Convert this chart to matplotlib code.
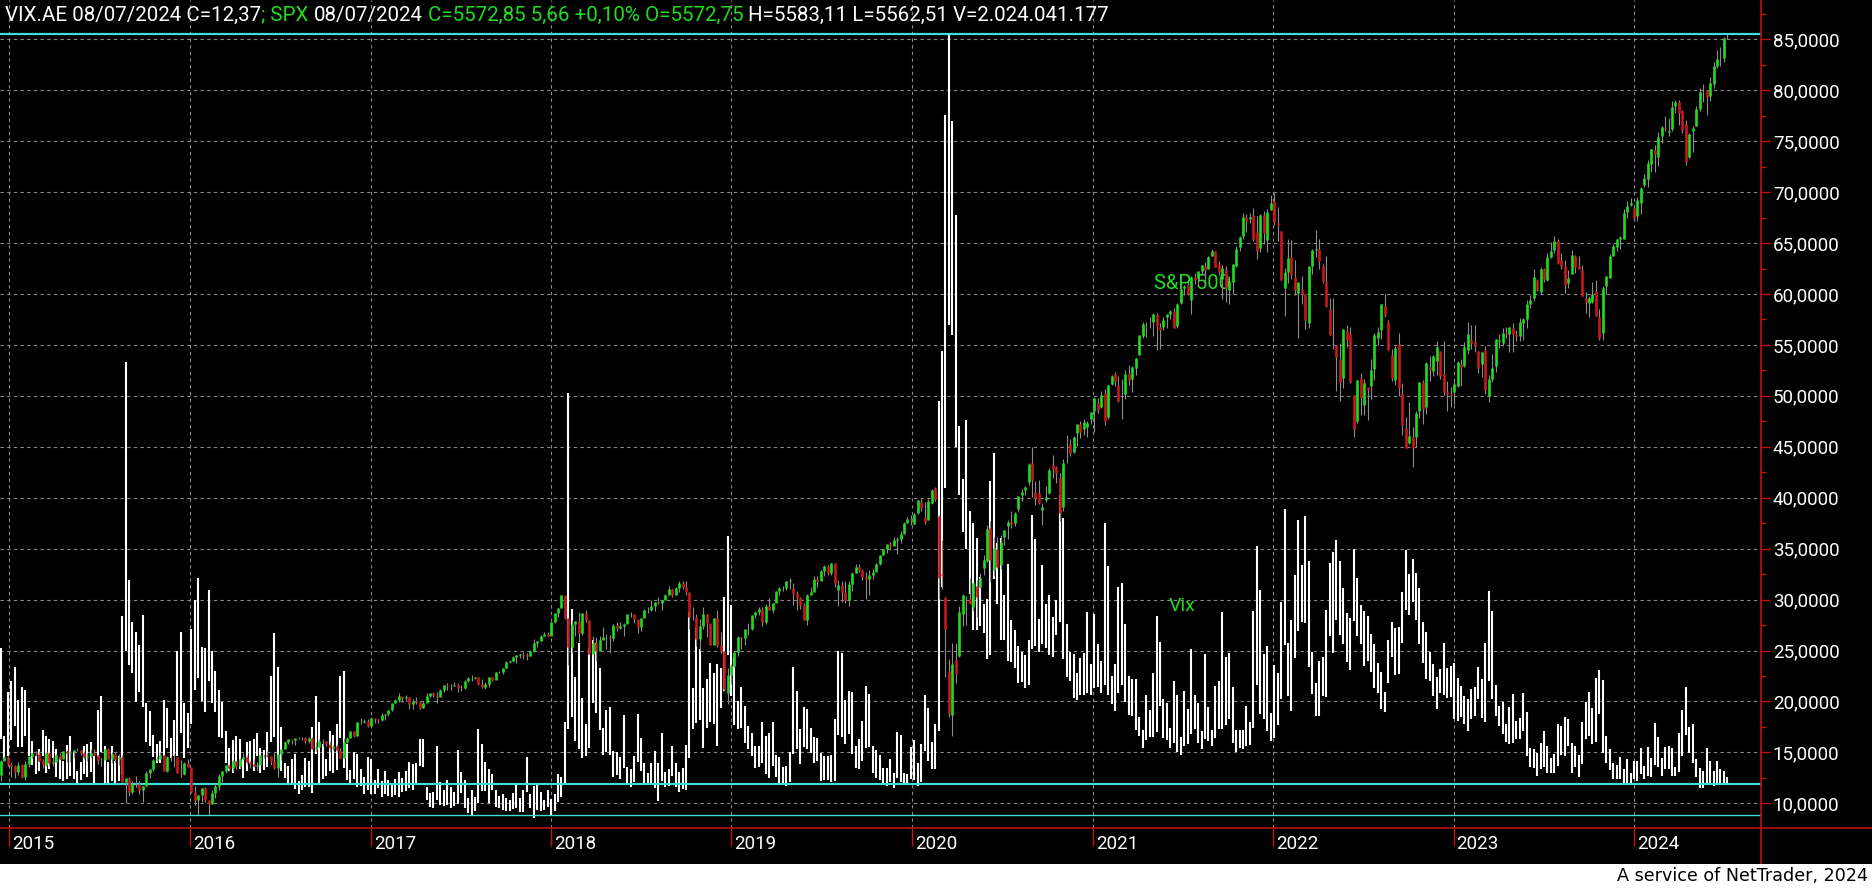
import numpy as np
import matplotlib
matplotlib.use("Agg")
from matplotlib import pyplot as plt
import matplotlib.dates as mdates
from matplotlib.lines import Line2D
from matplotlib.patches import Rectangle
from matplotlib.ticker import MultipleLocator, FuncFormatter

# weekly bars, week of 15 Dec 2014 .. week of 8 Jul 2024
weeks = np.arange(np.datetime64('2014-12-15'), np.datetime64('2024-07-09'), np.timedelta64(7, 'D'))

# S&P 500 weekly candles (index points)
spx_open = [
    2005, 2071, 2089,
    # 2015
    2058, 2045, 2019, 2051, 1995, 2055, 2097, 2110, 2104, 2071, 2053, 2108, 2061,
    2067, 2102, 2081, 2117, 2108, 2116, 2123, 2126, 2107, 2092, 2094, 2110, 2102,
    2077, 2077, 2127, 2080, 2104, 2078, 2092, 1971, 1989, 1921, 1961, 1958, 1931,
    1951, 2015, 2033, 2075, 2079, 2099, 2023, 2089, 2090, 2092, 2012, 2006, 2061,
    # 2016
    2044, 1922, 1880, 1907, 1940, 1880, 1865, 1918, 1948, 2000, 2022, 2050, 2036,
    2073, 2048, 2081, 2092, 2065, 2057, 2047, 2053, 2099, 2099, 2096, 2071, 2037,
    2103, 2130, 2162, 2175, 2174, 2183, 2184, 2184, 2169, 2180, 2128, 2139, 2165,
    2168, 2153, 2133, 2141, 2126, 2085, 2164, 2182, 2214, 2192, 2260, 2258, 2263,
    # 2017
    2239, 2277, 2275, 2271, 2295, 2297, 2316, 2351, 2367, 2383, 2373, 2378, 2344,
    2363, 2355, 2329, 2349, 2384, 2399, 2391, 2382, 2416, 2439, 2432, 2433, 2438,
    2423, 2425, 2459, 2472, 2472, 2476, 2441, 2426, 2443, 2477, 2461, 2500, 2502,
    2519, 2549, 2553, 2575, 2581, 2587, 2582, 2579, 2603, 2642, 2652, 2676, 2683,
    # 2018
    2674, 2743, 2786, 2810, 2873, 2762, 2620, 2732, 2747, 2691, 2786, 2752, 2588,
    2641, 2604, 2656, 2670, 2670, 2663, 2728, 2713, 2721, 2735, 2779, 2780, 2755,
    2718, 2760, 2801, 2802, 2819, 2840, 2833, 2850, 2875, 2902, 2872, 2905, 2930,
    2914, 2886, 2767, 2768, 2659, 2723, 2781, 2736, 2633, 2760, 2633, 2604, 2401, 2486,
    # 2019
    2532, 2596, 2671, 2665, 2707, 2708, 2776, 2793, 2804, 2743, 2822, 2800, 2834,
    2893, 2907, 2905, 2940, 2909, 2881, 2860, 2826, 2752, 2873, 2887, 2950, 2942,
    2990, 3014, 2977, 3026, 2899, 2919, 2889, 2847, 2926, 2979, 3007, 2992, 2962,
    2952, 2970, 2986, 3023, 3067, 3093, 3120, 3110, 3141, 3146, 3169, 3221, 3240,
    # 2020
    3218, 3271, 3321, 3248, 3236, 3319, 3389, 3257, 2975, 2863, 2508, 2291, 2559,
    2579, 2782, 2846, 2854, 2815, 2915, 2913, 3004, 3038, 3199, 2993, 3094, 3018,
    3155, 3205, 3224, 3219, 3289, 3356, 3381, 3419, 3509, 3370, 3364, 3285, 3334,
    3367, 3500, 3493, 3441, 3297, 3583, 3601, 3566, 3654, 3699, 3675, 3684, 3723,
    # 2021
    3764, 3803, 3781, 3851, 3732, 3892, 3939, 3886, 3842, 3844, 3943, 3916, 3969,
    4034, 4124, 4179, 4185, 4192, 4228, 4170, 4170, 4217, 4229, 4248, 4173, 4285,
    4356, 4373, 4297, 4409, 4406, 4437, 4462, 4450, 4513, 4535, 4474, 4402, 4442,
    4348, 4385, 4464, 4553, 4610, 4702, 4689, 4712, 4628, 4548, 4710, 4587, 4733,
    # 2022
    4779, 4669, 4632, 4356, 4432, 4505, 4412, 4332, 4354, 4328, 4188, 4462, 4541,
    4547, 4463, 4385, 4256, 4130, 4081, 4013, 3920, 4151, 4134, 3838, 3715, 3920,
    3792, 3880, 3883, 3965, 4113, 4155, 4270, 4195, 4034, 3910, 4084, 3849, 3682,
    3609, 3636, 3639, 3763, 3901, 3780, 3977, 3956, 4005, 4053, 3940, 3854, 3843,
    # 2023
    3853, 3884, 3990, 3979, 4056, 4106, 4097, 4052, 3992, 4055, 3835, 3917, 3982,
    4102, 4092, 4139, 4134, 4166, 4136, 4126, 4190, 4205, 4282, 4308, 4396, 4337,
    4450, 4394, 4505, 4543, 4585, 4492, 4464, 4380, 4426, 4510, 4463, 4445, 4310,
    4285, 4289, 4342, 4218, 4140, 4365, 4407, 4511, 4554, 4594, 4593, 4725, 4758,
    # 2024
    4745, 4703, 4766, 4853, 4886, 4957, 5026, 4989, 5094, 5131, 5111, 5124, 5235,
    5258, 5211, 5149, 4988, 5114, 5142, 5221, 5305, 5316, 5283, 5341, 5431, 5460,
    5471, 5572.75,
]
spx_high = [
    2077, 2094, 2093,
    2065, 2049, 2064, 2058, 2073, 2097, 2110, 2119, 2117, 2079, 2114, 2114, 2089,
    2103, 2111, 2120, 2126, 2120, 2123, 2134, 2126, 2121, 2110, 2127, 2130, 2102,
    2083, 2129, 2132, 2114, 2112, 2103, 2102, 1989, 1993, 1976, 1996, 1974, 1951,
    2020, 2034, 2079, 2094, 2116, 2099, 2097, 2094, 2104, 2092, 2076, 2067, 2082,
    2038, 1950, 1908, 1940, 1947, 1881, 1930, 1963, 2009, 2024, 2053, 2056, 2075,
    2073, 2084, 2111, 2099, 2075, 2081, 2064, 2100, 2106, 2120, 2093, 2113, 2103,
    2131, 2169, 2175, 2174, 2183, 2188, 2188, 2187, 2186, 2187, 2163, 2175, 2175,
    2169, 2169, 2148, 2152, 2133, 2182, 2189, 2214, 2214, 2260, 2278, 2274, 2273,
    2282, 2279, 2272, 2301, 2300, 2319, 2352, 2368, 2401, 2378, 2390, 2379, 2370,
    2378, 2360, 2361, 2399, 2399, 2403, 2406, 2418, 2440, 2446, 2441, 2454, 2446,
    2436, 2463, 2478, 2484, 2479, 2475, 2466, 2454, 2477, 2475, 2500, 2508, 2520,
    2552, 2557, 2576, 2582, 2588, 2598, 2591, 2605, 2658, 2653, 2680, 2695, 2692,
    2743, 2787, 2811, 2873, 2870, 2763, 2754, 2747, 2789, 2787, 2802, 2742, 2675,
    2672, 2674, 2717, 2683, 2682, 2732, 2743, 2742, 2736, 2779, 2791, 2775, 2754,
    2764, 2804, 2816, 2848, 2840, 2863, 2850, 2877, 2916, 2900, 2912, 2941, 2940,
    2940, 2889, 2817, 2779, 2756, 2815, 2782, 2734, 2760, 2800, 2694, 2601, 2521, 2539,
    2597, 2675, 2671, 2709, 2738, 2776, 2795, 2814, 2817, 2830, 2860, 2836, 2894,
    2910, 2917, 2940, 2954, 2931, 2892, 2864, 2833, 2876, 2911, 2964, 2964, 2996,
    3017, 3019, 3028, 3028, 2944, 2943, 2939, 2940, 2985, 3021, 3022, 3000, 2983,
    2993, 3000, 3028, 3067, 3097, 3121, 3127, 3154, 3154, 3183, 3226, 3248, 3258,
    3267, 3330, 3338, 3322, 3338, 3385, 3393, 3260, 3137, 2863, 2562, 2641, 2641,
    2818, 2880, 2868, 2954, 2933, 2945, 2981, 3068, 3211, 3233, 3155, 3155, 3165,
    3187, 3236, 3279, 3272, 3352, 3387, 3399, 3509, 3588, 3426, 3429, 3320, 3398,
    3486, 3550, 3497, 3465, 3529, 3646, 3628, 3644, 3699, 3712, 3726, 3712, 3760,
    3827, 3824, 3861, 3870, 3887, 3935, 3951, 3931, 3915, 3960, 3983, 3979, 4020,
    4130, 4191, 4195, 4218, 4238, 4237, 4188, 4218, 4233, 4249, 4262, 4286, 4355,
    4372, 4393, 4415, 4429, 4440, 4470, 4482, 4513, 4546, 4535, 4486, 4466, 4465,
    4416, 4475, 4560, 4608, 4718, 4714, 4718, 4744, 4705, 4713, 4731, 4741, 4808,
    4818, 4749, 4632, 4453, 4595, 4590, 4490, 4362, 4415, 4328, 4465, 4546, 4637,
    4594, 4471, 4513, 4308, 4308, 4082, 4090, 4160, 4177, 4169, 3838, 3913, 3946,
    3918, 3880, 4013, 4140, 4167, 4280, 4326, 4203, 4062, 4077, 4140, 3900, 3733,
    3807, 3686, 3762, 3905, 3911, 4001, 4028, 4034, 4101, 4053, 4101, 3907, 3878,
    3906, 4003, 4015, 4095, 4195, 4176, 4176, 4052, 4048, 4079, 3937, 4039, 4110,
    4133, 4164, 4170, 4170, 4187, 4154, 4212, 4212, 4300, 4322, 4448, 4400, 4458,
    4456, 4528, 4578, 4607, 4595, 4528, 4490, 4445, 4541, 4515, 4511, 4466, 4338,
    4316, 4385, 4394, 4256, 4366, 4415, 4521, 4569, 4595, 4609, 4738, 4778, 4793,
    4755, 4799, 4843, 4907, 4975, 5030, 5048, 5111, 5140, 5190, 5180, 5261, 5264,
    5265, 5219, 5168, 5105, 5140, 5239, 5325, 5342, 5316, 5375, 5447, 5506, 5523,
    5570, 5583.11,
]
spx_low = [
    1973, 2069, 2046,
    1992, 1988, 2004, 1989, 1980, 2041, 2085, 2097, 2066, 2039, 2045, 2046, 2045,
    2066, 2079, 2091, 2068, 2068, 2085, 2121, 2099, 2082, 2072, 2084, 2097, 2056,
    2045, 2078, 2079, 2063, 2067, 2052, 1971, 1867, 1903, 1911, 1945, 1909, 1872,
    1953, 1990, 2020, 2069, 2080, 2022, 2019, 2070, 2042, 2012, 1994, 2005, 2043,
    1918, 1857, 1812, 1872, 1872, 1810.10, 1868, 1891, 1931, 1969, 2011, 2023, 2022,
    2034, 2039, 2081, 2058, 2039, 2043, 2025, 2053, 2085, 2092, 2051, 2032, 1992,
    2075, 2131, 2154, 2153, 2148, 2175, 2170, 2160, 2157, 2127, 2120, 2139, 2145,
    2142, 2115, 2124, 2113, 2084, 2085, 2156, 2183, 2187, 2192, 2248, 2256, 2234,
    2245, 2254, 2254, 2265, 2267, 2289, 2314, 2349, 2358, 2354, 2360, 2322, 2322,
    2344, 2323, 2328, 2371, 2379, 2381, 2353, 2383, 2403, 2415, 2415, 2431, 2406,
    2407, 2417, 2451, 2459, 2466, 2437, 2425, 2418, 2429, 2457, 2474, 2496, 2489,
    2521, 2542, 2547, 2544, 2567, 2566, 2557, 2579, 2598, 2624, 2650, 2676, 2673,
    2682, 2737, 2769, 2808, 2759, 2533, 2594, 2675, 2647, 2682, 2741, 2586, 2594,
    2553, 2605, 2660, 2612, 2594, 2652, 2701, 2707, 2676, 2742, 2768, 2737, 2691,
    2698, 2770, 2788, 2795, 2795, 2828, 2802, 2853, 2876, 2864, 2874, 2886, 2904,
    2874, 2711, 2750, 2628, 2603, 2709, 2670, 2631, 2649, 2622, 2593, 2409, 2347, 2444,
    2525, 2580, 2612, 2631, 2681, 2704, 2764, 2775, 2722, 2732, 2800, 2785, 2848,
    2874, 2890, 2898, 2900, 2825, 2801, 2805, 2750, 2729, 2878, 2887, 2912, 2952,
    2966, 2971, 2968, 2914, 2822, 2840, 2835, 2822, 2891, 2980, 2985, 2946, 2856,
    2873, 2948, 2990, 3020, 3067, 3078, 3091, 3115, 3070, 3123, 3183, 3223, 3212,
    3214, 3264, 3280, 3214, 3236, 3315, 3328, 2856, 2902, 2478, 2281, 2192, 2447,
    2575, 2721, 2727, 2830, 2798, 2766, 2909, 2969, 3032, 2936, 2966, 3004, 2999,
    3115, 3142, 3199, 3205, 3279, 3328, 3354, 3405, 3349, 3310, 3313, 3209, 3323,
    3361, 3441, 3415, 3233, 3279, 3512, 3543, 3558, 3594, 3633, 3648, 3636, 3699,
    3663, 3751, 3778, 3694, 3725, 3890, 3884, 3805, 3723, 3819, 3888, 3854, 3937,
    4034, 4117, 4118, 4165, 4123, 4056, 4061, 4155, 4165, 4208, 4164, 4166, 4279,
    4321, 4321, 4233, 4374, 4367, 4422, 4367, 4450, 4511, 4458, 4422, 4306, 4288,
    4278, 4329, 4460, 4537, 4596, 4630, 4672, 4585, 4495, 4530, 4572, 4531, 4733,
    4662, 4582, 4395, 4222, 4380, 4402, 4324, 4115, 4280, 4157, 4162, 4424, 4507,
    4450, 4381, 4267, 4128, 4062, 3859, 3811, 3875, 4074, 3900, 3636, 3705, 3741,
    3742, 3721, 3819, 3910, 4080, 4112, 4217, 4057, 3906, 3887, 3837, 3648, 3584,
    3605, 3491, 3590, 3730, 3698, 3750, 3907, 3933, 3937, 3918, 3838, 3764, 3781,
    3795, 3877, 3885, 3973, 4037, 4060, 4048, 3944, 3928, 3847, 3808, 3901, 3952,
    4069, 4079, 4114, 4048, 4048, 4099, 4099, 4104, 4166, 4261, 4296, 4341, 4328,
    4385, 4389, 4504, 4528, 4474, 4449, 4335, 4356, 4426, 4430, 4449, 4317, 4238,
    4216, 4284, 4223, 4104, 4104, 4329, 4406, 4511, 4538, 4546, 4593, 4695, 4751,
    4682, 4682, 4714, 4844, 4845, 4919, 4920, 4946, 5058, 5114, 5091, 5117, 5204,
    5146, 5107, 4953, 4987, 5012, 5142, 5212, 5257, 5191, 5260, 5325, 5420, 5428,
    5447, 5562.51,
]
spx_close = [
    2071, 2089, 2058,
    2045, 2019, 2051, 1995, 2055, 2097, 2110, 2104, 2071, 2053, 2108, 2061, 2067,
    2102, 2081, 2117, 2108, 2116, 2123, 2126, 2107, 2092, 2094, 2110, 2102, 2077,
    2077, 2127, 2080, 2104, 2078, 2092, 1971, 1989, 1921, 1961, 1958, 1931, 1951,
    2015, 2033, 2075, 2079, 2099, 2023, 2089, 2090, 2092, 2012, 2006, 2061, 2044,
    1922, 1880, 1907, 1940, 1880, 1865, 1918, 1948, 2000, 2022, 2050, 2036, 2073,
    2048, 2081, 2092, 2065, 2057, 2047, 2053, 2099, 2099, 2096, 2071, 2037, 2103,
    2130, 2162, 2175, 2174, 2183, 2184, 2184, 2169, 2180, 2128, 2139, 2165, 2168,
    2153, 2133, 2141, 2126, 2085, 2164, 2182, 2214, 2192, 2260, 2258, 2263, 2239,
    2277, 2275, 2271, 2295, 2297, 2316, 2351, 2367, 2383, 2373, 2378, 2344, 2363,
    2355, 2329, 2349, 2384, 2399, 2391, 2382, 2416, 2439, 2432, 2433, 2438, 2423,
    2425, 2459, 2472, 2472, 2476, 2441, 2426, 2443, 2477, 2461, 2500, 2502, 2519,
    2549, 2553, 2575, 2581, 2587, 2582, 2579, 2603, 2642, 2652, 2676, 2683, 2674,
    2743, 2786, 2810, 2873, 2762, 2620, 2732, 2747, 2691, 2786, 2752, 2588, 2641,
    2604, 2656, 2670, 2670, 2663, 2728, 2713, 2721, 2735, 2779, 2780, 2755, 2718,
    2760, 2801, 2802, 2819, 2840, 2833, 2850, 2875, 2902, 2872, 2905, 2930, 2914,
    2886, 2767, 2768, 2659, 2723, 2781, 2736, 2633, 2760, 2633, 2600, 2417, 2486, 2532,
    2596, 2671, 2665, 2707, 2708, 2776, 2793, 2804, 2743, 2822, 2800, 2834, 2893,
    2907, 2905, 2940, 2946, 2881, 2860, 2826, 2752, 2873, 2887, 2950, 2942, 2990,
    3014, 2977, 3026, 2932, 2919, 2889, 2847, 2926, 2979, 3007, 2992, 2962, 2952,
    2970, 2986, 3023, 3067, 3093, 3120, 3110, 3141, 3146, 3169, 3221, 3240, 3235,
    3265, 3330, 3295, 3226, 3328, 3380, 3338, 2954, 2972, 2711, 2305, 2541, 2489,
    2790, 2875, 2837, 2831, 2930, 2864, 2955, 3044, 3194, 3041, 3098, 3009, 3130,
    3185, 3225, 3216, 3271, 3351, 3373, 3397, 3508, 3427, 3341, 3319, 3298, 3348,
    3477, 3484, 3465, 3270, 3509, 3585, 3558, 3638, 3699, 3663, 3709, 3703, 3756,
    3825, 3768, 3841, 3714, 3887, 3934, 3907, 3811, 3842, 3943, 3913, 3975, 4020,
    4129, 4185, 4180, 4181, 4233, 4174, 4156, 4204, 4230, 4247, 4166, 4281, 4352,
    4369, 4327, 4412, 4395, 4437, 4468, 4442, 4509, 4535, 4459, 4433, 4455, 4357,
    4391, 4471, 4545, 4605, 4698, 4683, 4698, 4595, 4538, 4712, 4621, 4726, 4766,
    4677, 4663, 4398, 4432, 4501, 4419, 4349, 4385, 4329, 4204, 4463, 4543, 4546,
    4488, 4393, 4272, 4132, 4123, 4024, 3901, 4158, 4108, 3901, 3675, 3912, 3825,
    3899, 3863, 3962, 4130, 4145, 4280, 4228, 4058, 3924, 4067, 3873, 3693, 3586,
    3640, 3583, 3753, 3901, 3771, 3993, 3965, 4026, 4072, 3934, 3852, 3845, 3840,
    3895, 3999, 3973, 4071, 4136, 4090, 4079, 3970, 4046, 3862, 3917, 3971, 4109,
    4105, 4138, 4133, 4169, 4136, 4124, 4192, 4205, 4282, 4299, 4410, 4348, 4450,
    4399, 4505, 4536, 4582, 4478, 4464, 4370, 4406, 4516, 4457, 4450, 4320, 4288,
    4309, 4328, 4224, 4117, 4358, 4415, 4514, 4559, 4595, 4604, 4719, 4755, 4770,
    4697, 4784, 4840, 4891, 4959, 5027, 5006, 5089, 5137, 5124, 5117, 5234, 5254,
    5204, 5123, 4967, 5100, 5128, 5223, 5303, 5305, 5278, 5347, 5432, 5465, 5460,
    5567, 5572.85,
]

# VIX weekly range
vix_high = [
    25.2, 16.6, 20.9,
    22.0, 23.4, 20.1, 21.4, 21.1, 19.4, 16.1, 14.6, 15.3, 17.2, 16.6, 16.3, 16.1,
    15.3, 14.5, 14.2, 15.7, 16.6, 15.0, 13.2, 14.1, 15.6, 15.8, 16.0, 14.6, 19.2,
    20.5, 15.6, 14.1, 15.6, 14.2, 14.6, 28.4, 53.3, 31.9, 27.8, 26.8, 25.5, 28.5,
    19.8, 19.1, 16.7, 15.8, 16.1, 20.1, 19.4, 16.4, 18.2, 25.0, 26.8, 19.8, 18.9,
    27.1, 30.0, 32.1, 25.3, 25.2, 30.9, 25.0, 23.0, 21.1, 19.9, 17.1, 15.4, 16.2,
    16.6, 16.3, 14.3, 16.0, 16.1, 16.3, 16.9, 15.4, 15.2, 17.0, 22.5, 26.7, 23.4,
    17.5, 14.0, 13.7, 14.3, 14.8, 12.2, 12.8, 14.4, 14.2, 17.5, 20.5, 18.0, 15.8,
    14.3, 17.1, 16.7, 17.8, 22.5, 23.0, 15.8, 13.3, 15.0, 14.8, 13.4, 12.6, 14.5,
    14.3, 12.3, 13.4, 12.2, 13.2, 12.3, 12.0, 12.4, 13.1, 12.5, 13.2, 14.1, 13.9,
    14.0, 16.3, 16.3, 11.6, 11.0, 11.1, 15.6, 12.1, 11.3, 12.3, 11.6, 11.1, 15.2,
    13.1, 12.3, 10.5, 11.3, 10.6, 17.3, 15.8, 14.1, 13.4, 12.9, 11.3, 10.7, 10.9,
    10.5, 10.3, 11.0, 12.0, 10.5, 11.3, 14.5, 10.9, 11.7, 12.0, 11.1, 10.3, 11.3,
    10.4, 10.9, 12.9, 12.6, 18.0, 50.3, 29.1, 22.4, 25.7, 20.3, 17.8, 25.2, 26.0,
    25.7, 23.3, 17.4, 19.2, 19.5, 15.1, 15.0, 14.5, 18.7, 13.6, 13.4, 14.6, 18.8,
    16.4, 14.0, 13.0, 14.0, 15.1, 14.0, 16.9, 13.1, 13.4, 15.6, 14.0, 13.1, 13.5,
    15.7, 28.8, 21.3, 27.2, 25.1, 21.3, 22.2, 23.8, 22.8, 23.7, 23.3, 30.3, 36.2, 29.5,
    24.4, 20.0, 21.4, 19.6, 17.6, 16.9, 15.6, 15.6, 18.0, 16.6, 16.9, 18.0, 14.7,
    14.5, 13.6, 13.7, 15.0, 23.4, 21.0, 17.3, 19.5, 19.3, 17.4, 16.5, 16.4, 14.9,
    14.6, 14.6, 14.7, 18.3, 25.0, 24.8, 20.1, 21.0, 20.9, 15.6, 16.3, 18.1, 21.5,
    20.7, 15.6, 15.2, 14.7, 13.5, 13.5, 14.3, 13.0, 17.0, 16.7, 13.0, 12.9, 15.5,
    16.2, 14.0, 15.8, 20.6, 19.4, 16.0, 17.8, 49.5, 54.4, 77.6, 85.5, 77.0, 67.8,
    47.0, 41.8, 47.6, 38.7, 37.5, 36.0, 32.2, 29.6, 30.1, 41.6, 44.4, 35.6, 36.0,
    30.4, 33.5, 28.0, 27.0, 25.4, 24.9, 24.6, 26.0, 38.3, 35.9, 28.1, 33.4, 29.6,
    30.4, 28.3, 30.0, 40.3, 38.0, 27.6, 24.9, 24.7, 22.8, 24.3, 24.8, 28.8, 23.7,
    28.6, 25.6, 24.0, 37.5, 33.3, 22.5, 23.7, 31.2, 31.6, 27.6, 22.5, 22.2, 22.2,
    18.5, 17.2, 20.6, 19.2, 22.8, 28.4, 25.8, 20.2, 19.8, 17.4, 22.0, 20.6, 16.5,
    21.0, 19.3, 25.1, 20.6, 19.8, 17.1, 24.7, 19.5, 17.2, 21.5, 22.0, 28.8, 24.4,
    24.8, 21.4, 17.2, 17.2, 17.2, 19.6, 18.0, 28.9, 35.3, 30.9, 24.7, 25.4, 18.9,
    23.6, 22.8, 29.8, 38.9, 25.7, 28.0, 32.4, 37.8, 33.4, 38.2, 33.8, 24.9, 21.8,
    24.0, 24.4, 29.0, 33.6, 34.7, 35.8, 33.8, 31.1, 28.7, 28.2, 35.0, 32.1, 29.5,
    28.9, 28.4, 26.6, 25.6, 23.8, 22.9, 20.9, 26.0, 27.8, 27.2, 27.3, 30.7, 34.9,
    32.5, 34.0, 32.6, 31.1, 27.8, 26.8, 24.9, 23.7, 22.4, 23.2, 25.7, 23.3, 23.5,
    23.8, 22.3, 21.5, 20.5, 20.2, 21.2, 21.4, 23.4, 22.2, 25.7, 30.8, 28.9, 21.6,
    19.6, 19.9, 17.8, 19.5, 20.7, 18.1, 18.4, 20.8, 19.0, 15.4, 15.3, 14.9, 15.9,
    17.1, 15.6, 14.4, 14.8, 17.8, 17.6, 18.5, 18.3, 15.9, 15.6, 14.7, 18.0, 19.9,
    20.9, 19.4, 22.3, 23.1, 22.1, 16.6, 15.3, 14.0, 13.8, 14.5, 13.4, 14.3, 13.0,
    14.2, 14.2, 15.4, 13.7, 15.5, 14.4, 17.9, 16.5, 14.4, 15.5, 15.6, 15.4, 13.6,
    16.9, 19.2, 21.4, 17.5, 17.8, 14.3, 13.5, 13.2, 15.4, 14.2, 13.2, 14.2, 13.4,
    13.2, 12.6,
]
vix_low = [
    16.3, 14.3, 14.6,
    16.2, 17.6, 15.5, 15.5, 16.6, 14.6, 13.8, 12.9, 13.2, 14.6, 13.0, 13.4, 14.4,
    12.6, 12.4, 12.2, 12.4, 12.7, 12.4, 11.8, 12.3, 12.9, 12.6, 13.1, 11.9, 14.5,
    15.0, 11.8, 11.8, 12.2, 11.9, 12.2, 12.9, 25.0, 23.6, 22.8, 19.9, 20.9, 19.5,
    16.0, 15.6, 14.5, 14.0, 14.0, 14.6, 15.4, 14.4, 14.6, 14.6, 16.9, 14.4, 15.4,
    17.8, 21.1, 22.3, 20.0, 19.0, 22.0, 19.8, 19.0, 16.5, 16.4, 14.0, 13.2, 13.0,
    13.7, 13.4, 12.5, 13.2, 13.9, 13.2, 14.6, 13.0, 13.3, 13.6, 16.0, 16.5, 14.4,
    13.2, 12.5, 11.8, 11.9, 11.4, 10.9, 11.3, 11.6, 11.6, 11.0, 14.8, 12.0, 12.4,
    12.7, 13.2, 13.0, 13.3, 16.4, 13.5, 12.3, 11.9, 12.4, 11.6, 11.7, 10.9, 11.3,
    10.9, 10.9, 11.5, 10.6, 10.9, 10.7, 10.6, 10.8, 10.6, 11.1, 11.2, 11.5, 11.3,
    11.9, 13.7, 13.6, 10.3, 9.6, 9.5, 10.3, 9.8, 9.7, 9.8, 9.5, 9.7, 9.9,
    11.0, 9.5, 9.0, 8.8, 9.2, 10.0, 11.2, 11.2, 10.0, 11.3, 9.6, 9.5, 9.3,
    9.2, 9.2, 9.4, 9.5, 9.1, 9.1, 11.1, 9.5, 8.6, 9.3, 9.2, 9.3, 9.6,
    8.9, 9.2, 10.1, 10.6, 12.0, 17.3, 18.5, 16.1, 15.3, 14.4, 14.6, 15.4, 19.8,
    18.9, 17.2, 14.7, 15.0, 14.7, 12.6, 12.8, 12.4, 13.5, 11.8, 11.6, 12.1, 14.1,
    13.2, 12.0, 11.8, 11.9, 11.5, 10.2, 12.2, 11.6, 11.7, 12.7, 11.6, 11.1, 11.4,
    11.3, 14.4, 17.3, 17.9, 18.2, 15.4, 17.4, 18.0, 17.8, 15.6, 19.4, 21.0, 24.6, 20.5,
    17.7, 17.3, 17.4, 15.9, 15.3, 14.6, 13.5, 13.6, 14.0, 12.9, 12.5, 13.7, 12.6,
    12.0, 11.9, 11.7, 12.1, 14.8, 15.3, 13.9, 15.5, 15.3, 14.9, 14.0, 14.2, 12.2,
    12.3, 12.3, 12.1, 12.2, 16.7, 16.5, 15.8, 16.8, 14.8, 13.5, 13.4, 14.2, 15.4,
    15.5, 13.0, 12.5, 12.3, 12.0, 11.7, 12.1, 11.5, 12.5, 12.1, 11.8, 11.8, 12.4,
    12.3, 11.7, 12.1, 15.1, 14.2, 13.4, 13.4, 17.1, 31.2, 41.0, 57.0, 56.0, 45.0,
    40.3, 36.6, 35.0, 30.5, 27.0, 27.0, 27.4, 26.7, 24.2, 24.6, 32.0, 29.6, 26.0,
    26.0, 24.0, 23.9, 23.3, 21.8, 21.9, 21.3, 21.6, 25.1, 25.4, 24.9, 25.6, 25.2,
    24.6, 24.4, 26.5, 27.8, 24.2, 22.4, 22.0, 20.3, 20.1, 20.6, 20.6, 20.8, 20.6,
    21.3, 21.4, 20.8, 21.6, 20.6, 19.7, 19.1, 20.8, 21.6, 19.9, 18.7, 18.6, 17.2,
    16.6, 15.4, 16.2, 16.5, 16.5, 17.0, 19.6, 16.4, 16.2, 15.4, 15.9, 15.0, 14.7,
    15.6, 15.8, 16.8, 17.3, 15.9, 15.3, 16.3, 16.1, 15.6, 16.4, 17.3, 17.3, 17.7,
    18.3, 15.9, 15.0, 15.4, 15.3, 15.6, 15.7, 17.4, 21.6, 18.8, 18.3, 17.1, 16.1,
    16.4, 17.7, 20.2, 25.5, 20.5, 19.1, 24.3, 26.9, 27.8, 27.7, 23.4, 20.7, 18.6,
    18.6, 20.5, 20.4, 26.4, 24.8, 28.0, 26.5, 25.6, 23.9, 23.1, 27.9, 26.4, 25.6,
    23.5, 24.0, 22.9, 21.3, 20.8, 19.3, 19.0, 21.8, 24.4, 22.6, 22.7, 25.7, 29.0,
    28.5, 29.8, 28.0, 25.6, 23.8, 22.2, 22.0, 20.5, 19.3, 20.8, 20.6, 20.3, 20.4,
    18.3, 18.1, 18.5, 17.8, 17.1, 18.3, 18.6, 20.2, 18.4, 18.0, 22.0, 20.2, 18.6,
    17.6, 16.8, 16.0, 15.8, 15.9, 16.3, 16.3, 17.1, 14.6, 13.6, 13.5, 12.7, 13.4,
    13.6, 13.0, 13.0, 13.0, 13.7, 14.7, 14.6, 15.6, 13.0, 13.6, 12.6, 13.9, 16.3,
    16.6, 15.8, 16.0, 18.8, 14.9, 14.0, 13.3, 12.4, 12.4, 12.4, 11.8, 11.9, 11.8,
    12.4, 12.2, 12.9, 12.4, 12.7, 12.6, 13.8, 13.6, 12.7, 13.4, 13.4, 12.7, 12.7,
    13.1, 14.6, 16.7, 14.9, 14.0, 12.6, 11.5, 11.5, 12.0, 11.9, 11.7, 11.9, 11.9,
    11.9, 11.93,
]

years = list(range(2015, 2025))

header = [
    ("VIX.AE 08/07/2024 C=12,37", "white", 0),
    ("; SPX", "green", 1),
    ("08/07/2024", "white", 1),
    ("C=5572,85 5,66 +0,10% O=5572,75", "green", 1),
    ("H=5583,11 L=5562,51 V=2.024.041.177", "white", 0),
]

for name, s in [("open", spx_open), ("high", spx_high), ("low", spx_low),
                ("close", spx_close), ("vix_high", vix_high), ("vix_low", vix_low)]:
    if len(s) != len(weeks):
        raise SystemExit(f"{name}: {len(s)} values, {len(weeks)} weeks")

W, H = 1872, 888
RED = "#c01010"
GREEN = "#20dc20"
CANDLE_RED = "#c81818"
CYAN = "#40dcdc"
FS = 13.5
plt.rcParams["font.family"] = ["Roboto", "DejaVu Sans"]

x = mdates.date2num(weeks)
o = np.array(spx_open, float)
h = np.array(spx_high, float)
l = np.array(spx_low, float)
c = np.array(spx_close, float)

fig = plt.figure(figsize=(W / 100, H / 100), dpi=100, facecolor="white")
fig.add_artist(Rectangle((0, 24 / H), 1, 1 - 24 / H, transform=fig.transFigure,
                         facecolor="black", edgecolor="none", zorder=-10))

ax = fig.add_axes([0, 60 / H, 1761 / W, 828 / H])
ax.set_facecolor("black")
ax2 = ax.twinx()

# VIX scale on the right
vlim = (7.575, 88.86)
ax.set_ylim(*vlim)
ax.set_xlim(mdates.date2num(np.datetime64("2014-12-13")), mdates.date2num(np.datetime64("2024-09-14")))

ax.vlines(x, vix_low, vix_high, colors="white", linewidth=1.5, zorder=3)
ax.axhline(vix_low[-1], color=CYAN, lw=1.6, zorder=6)

# SPX overlaid: its full range is stretched between these two VIX levels
band_lo, band_hi = 8.86, 85.49
k = (h.max() - l.min()) / (band_hi - band_lo)
ax2.set_ylim(l.min() + (vlim[0] - band_lo) * k, l.min() + (vlim[1] - band_lo) * k)

up = c >= o
ax2.vlines(x, l, h, colors="#8c8c8c", linewidth=0.8, zorder=2)
ax2.vlines(x[up], o[up], c[up], colors=GREEN, linewidth=1.9, zorder=3)
ax2.vlines(x[~up], o[~up], c[~up], colors=CANDLE_RED, linewidth=1.9, zorder=3)
ax2.axhline(h.max(), color=CYAN, lw=1.6, zorder=6)
ax2.axhline(l.min(), color=CYAN, lw=1.0, zorder=6)

ax.text(mdates.date2num(np.datetime64("2021-05-05")), 61.0, "S&P 500", color=GREEN,
        fontsize=14.5, va="center", ha="left", zorder=4)
ax.text(mdates.date2num(np.datetime64("2021-06-04")), 29.4, "Vix", color=GREEN,
        fontsize=14, va="center", ha="left", zorder=4)

# grid, ticks
ax.xaxis.set_major_locator(mdates.YearLocator())
ax.yaxis.set_major_locator(MultipleLocator(5))
ax.yaxis.set_minor_locator(MultipleLocator(2.5))
ax.set_axisbelow(True)
ax.grid(True, which="major", color="#8a8a8a", linestyle=(0, (3, 3)), linewidth=0.8)
ax.yaxis.tick_right()
ax.yaxis.set_major_formatter(FuncFormatter(lambda v, p: f"{v:.4f}".replace(".", ",")))
ax.tick_params(axis="y", which="major", length=6.5, width=1, color=RED,
               labelcolor="white", labelsize=FS, pad=2)
ax.tick_params(axis="y", which="minor", length=3.5, width=1, color=RED)
ax.tick_params(axis="x", which="major", direction="out", length=13, width=1,
               color=RED, labelbottom=False)
ax2.set_yticks([])
for a in (ax, ax2):
    for sp in a.spines.values():
        sp.set_visible(False)

for yr in years:
    ax.annotate(str(yr), xy=(mdates.date2num(np.datetime64(f"{yr}-01-01")), 0),
                xycoords=("data", "axes fraction"), xytext=(3, -16),
                textcoords="offset pixels", color="white", fontsize=FS,
                ha="left", va="center", annotation_clip=False)

# red frame lines
fig.add_artist(Line2D([0, 1], [60 / H, 60 / H], transform=fig.transFigure, color=RED, lw=1.2))
fig.add_artist(Line2D([1761 / W, 1761 / W], [25 / H, 1], transform=fig.transFigure, color=RED, lw=1.2))

# quote line at the top
HFS = 14.8
r = fig.canvas.get_renderer()
t1 = fig.text(0, 0, "x x", fontsize=HFS)
t2 = fig.text(0, 0, "xx", fontsize=HFS)
space = t1.get_window_extent(r).width - t2.get_window_extent(r).width
t1.remove()
t2.remove()
xpos = 5
for s, col, gap in header:
    t = fig.text(xpos / W, 1 - 15 / H, s, color=GREEN if col == "green" else col,
                 fontsize=HFS, va="center", ha="left")
    xpos = t.get_window_extent(r).x1 + gap * space

fig.text(1868 / W, 12 / H, "A service of NetTrader, 2024", color="black",
         fontsize=12.6, family=["DejaVu Sans"], ha="right", va="center")

fig.savefig("out.png", dpi=100, facecolor="white")
